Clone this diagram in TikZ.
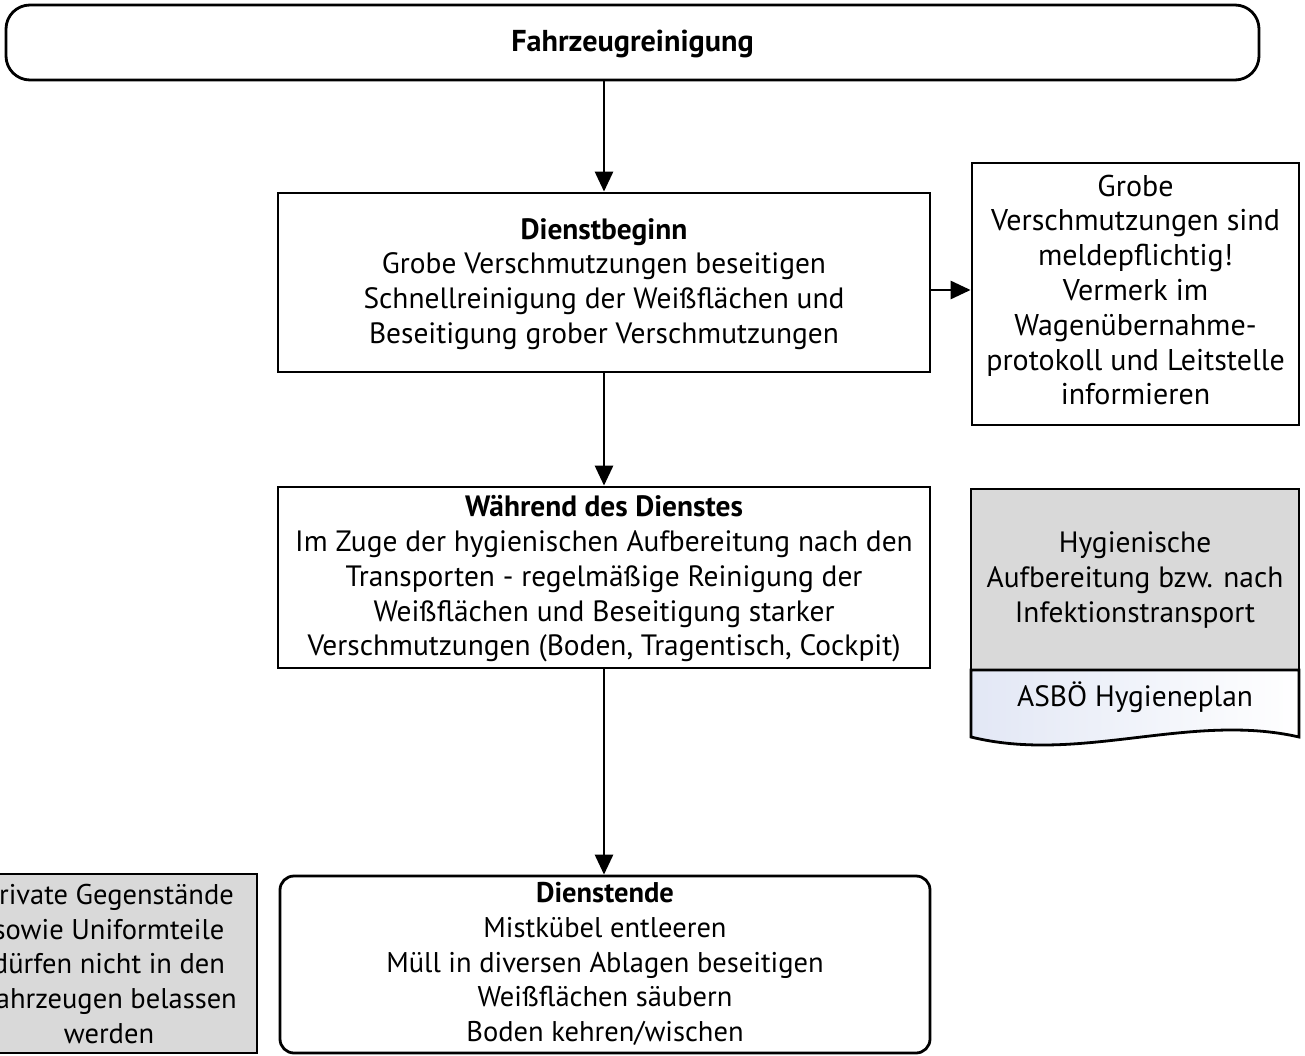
\documentclass[tikz,border=0pt]{standalone}
\usepackage{fontspec}
\setmainfont{PT Sans}
\usetikzlibrary{arrows.meta,calc}

\definecolor{boxgrey}{RGB}{217,217,217}
\definecolor{docblue}{RGB}{226,231,245}

\tikzset{
  txt/.style={font=\fontsize{29.4}{34.8}\selectfont, align=center, inner sep=0pt},
  smalltxt/.style={txt, font=\fontsize{28.5}{34.8}\selectfont},
  box/.style={draw, line width=2.8pt, rectangle, inner sep=0pt},
  roundbox/.style={box, rounded corners=14pt},
  greybox/.style={box, fill=boxgrey},
  arr/.style={line width=2.8pt, -{Triangle[length=20pt,width=18pt]}},
}

\begin{document}
\begin{tikzpicture}[x=1pt,y=-1pt]
\useasboundingbox (0,0) rectangle (1305,1056);
\clip (0,0) rectangle (1305,1056);

% title bar
\node[roundbox, rounded corners=24pt, minimum width=1253pt, minimum height=75pt] (top) at (632.5,42.5) {};
\node[txt, font=\fontsize{30.2}{34.8}\selectfont] (toptext) at (632.5,44) {\bfseries Fahrzeugreinigung};

% start of duty
\node[box, minimum width=652pt, minimum height=179pt] (begin) at (604,282.5) {};
\node[txt] (begintext) at (604,284) {\textbf{Dienstbeginn}\\Grobe Verschmutzungen beseitigen\\Schnellreinigung der Weißflächen und\\Beseitigung grober Verschmutzungen};

% note on reporting
\node[box, minimum width=327pt, minimum height=262pt] (report) at (1135.5,294) {};
\node[txt, font=\fontsize{30}{34.8}\selectfont] (reporttext) at (1135.5,290) {Grobe\\Verschmutzungen sind\\meldepflichtig!\\Vermerk im\\Wagenübernahme-\\protokoll und Leitstelle\\informieren};

% during duty
\node[box, minimum width=652pt, minimum height=181pt] (during) at (604,577.5) {};
\node[txt] (duringtext) at (604,579) {\textbf{Während des Dienstes}\\Im Zuge der hygienischen Aufbereitung nach den\\Transporten - regelmäßige Reinigung der\\Weißflächen und Beseitigung starker\\Verschmutzungen (Boden, Tragentisch, Cockpit)};

% hygiene reference with document
\node[greybox, minimum width=328pt, minimum height=181pt] (hyg) at (1135,579.5) {};
\node[txt] (hygtext) at (1135,580) {Hygienische\\Aufbereitung bzw. nach\\Infektionstransport};
\shade[left color=docblue, right color=white]
  (971,670) -- (1299,670) -- (1299,737)
  .. controls (1190,712) and (1080,764) .. (971,737) -- cycle;
\draw[line width=2.8pt, line join=miter]
  (971,670) -- (1299,670) -- (1299,737)
  .. controls (1190,712) and (1080,764) .. (971,737) -- cycle;
\node[txt] (plan) at (1135,697) {ASBÖ Hygieneplan};

% end of duty
\node[roundbox, minimum width=650pt, minimum height=177pt] (end) at (605,964.5) {};
\node[smalltxt] (endtext) at (605,964) {\textbf{Dienstende}\\Mistkübel entleeren\\Müll in diversen Ablagen beseitigen\\Weißflächen säubern\\Boden kehren/wischen};

% personal items note
\node[greybox, minimum width=300pt, minimum height=179pt] (items) at (107,963.5) {};
\node[smalltxt] (itemstext) at (109,964) {Private Gegenstände\\sowie Uniformteile\\dürfen nicht in den\\Fahrzeugen belassen\\werden};

% connectors
\draw[arr] (begin.north |- top.south) -- (begin.north);
\coordinate (ra) at ($(begin.east)+(0,7.5)$);
\draw[arr] (ra) -- (ra -| report.west);
\draw[arr] (begin.south) -- (during.north);
\draw[arr] (during.south) -- (during.south |- end.north);
\end{tikzpicture}
\end{document}
